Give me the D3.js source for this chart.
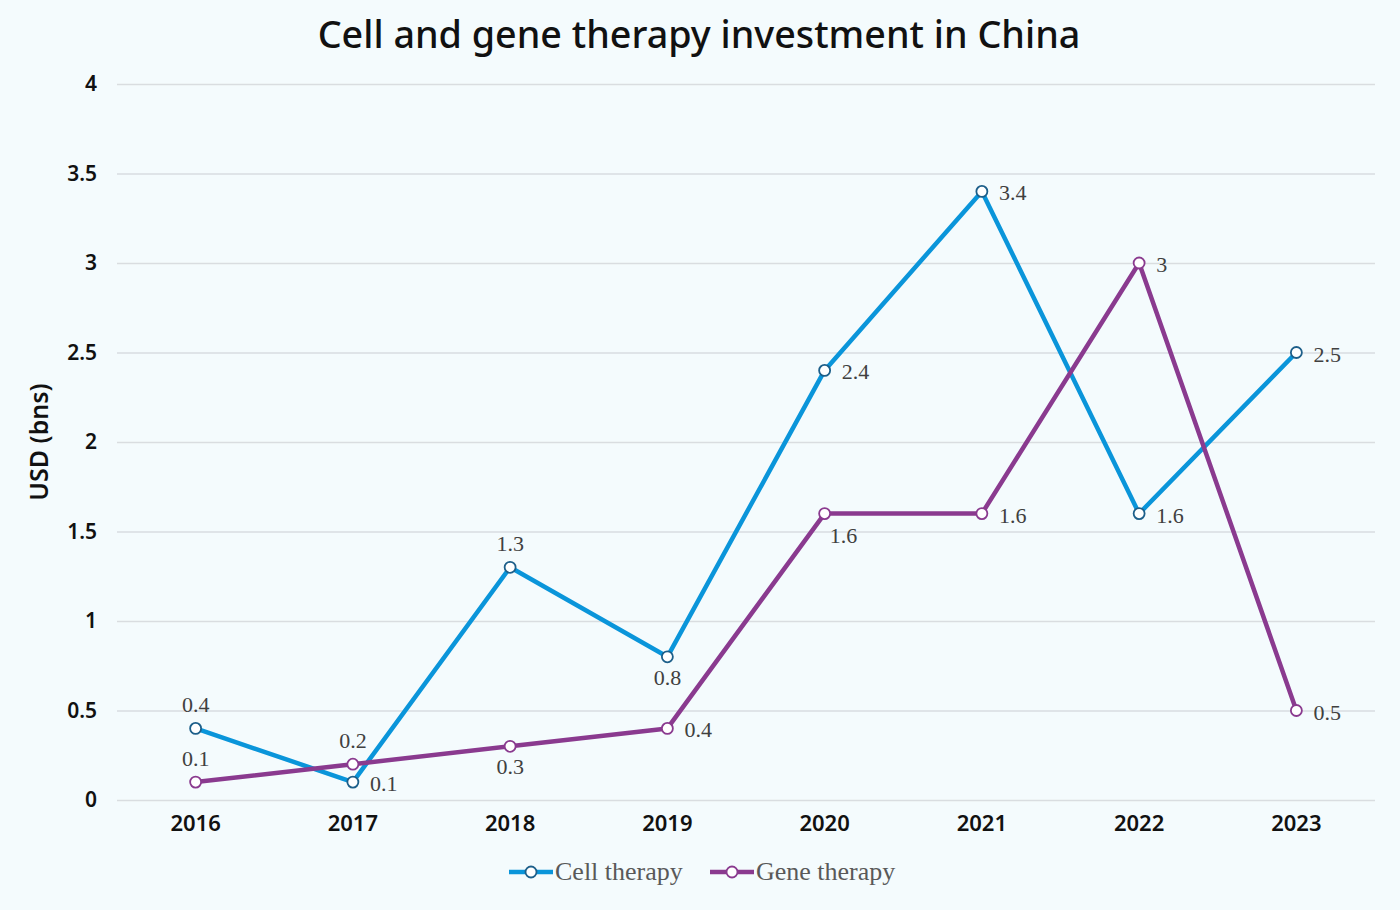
<!DOCTYPE html>
<html>
<head>
<meta charset="utf-8">
<script src="https://cdn.jsdelivr.net/npm/d3@7"></script>
<style>
  body { margin: 0; background: #f4fbfd; }
  svg { display: block; }
</style>
</head>
<body>
<svg id="chart" width="1400" height="910"></svg>
<script>
// Data
const years = ["2016", "2017", "2018", "2019", "2020", "2021", "2022", "2023"];
const cellTherapy = [0.4, 0.1, 1.3, 0.8, 2.4, 3.4, 1.6, 2.5];
const geneTherapy = [0.1, 0.2, 0.3, 0.4, 1.6, 1.6, 3, 0.5];
const cellLabelPos = ["above", "right", "above", "below", "right", "right", "right", "right"];
const geneLabelPos = ["above", "above", "below", "right", "belowRight", "right", "right", "right"];
const yTicks = [0, 0.5, 1, 1.5, 2, 2.5, 3, 3.5, 4];

const series = [
    { name: "Cell therapy", values: cellTherapy, pos: cellLabelPos, color: "#0a95da", marker: "#1d5f8a" },
    { name: "Gene therapy", values: geneTherapy, pos: geneLabelPos, color: "#8a3a8f", marker: "#8a3a8f" }
];

const svg = d3.select("#chart");
const W = 1400, H = 910;
const margin = { top: 84, right: 25, bottom: 110, left: 117 };
const sans = "'Noto Sans', Lato, sans-serif";
const serif = "'Liberation Serif', Georgia, serif";

svg.append("rect").attr("width", W).attr("height", H).attr("fill", "#f4fbfd");

const x = d3.scaleBand().domain(years).range([margin.left, W - margin.right]);
const y = d3.scaleLinear().domain([0, 4]).range([H - margin.bottom, margin.top]);

// Title
svg.append("text")
    .attr("x", 699).attr("y", 48)
    .attr("text-anchor", "middle")
    .style("font-family", sans)
    .style("font-size", "37.7px")
    .style("font-weight", 500)
    .style("fill", "#111")
    .text("Cell and gene therapy investment in China");

// Gridlines + y axis
const yAxis = svg.append("g")
    .attr("transform", `translate(${margin.left},0)`)
    .call(d3.axisLeft(y).tickValues(yTicks).tickSize(-(W - margin.left - margin.right)).tickPadding(20).tickFormat(d => d));
yAxis.select(".domain").remove();
yAxis.selectAll(".tick line").attr("stroke", "#d9dde0").attr("stroke-width", 1.5);
yAxis.selectAll(".tick text")
    .style("font-family", sans)
    .style("font-size", "21px")
    .style("font-weight", 600)
    .style("fill", "#111");

// x axis
const xAxis = svg.append("g")
    .attr("transform", `translate(0,${H - margin.bottom})`)
    .call(d3.axisBottom(x).tickSize(0).tickPadding(15));
xAxis.select(".domain").remove();
xAxis.selectAll(".tick text")
    .style("font-family", sans)
    .style("font-size", "22px")
    .style("font-weight", 600)
    .style("fill", "#111");

// y axis title
svg.append("text")
    .attr("transform", `translate(48,${442}) rotate(-90)`)
    .attr("text-anchor", "middle")
    .style("font-family", sans)
    .style("font-size", "25px")
    .style("font-weight", 600)
    .style("fill", "#111")
    .text("USD (bns)");

const cx = (d, i) => x(years[i]) + x.bandwidth() / 2;
const line = d3.line().x((d, i) => cx(d, i)).y(d => y(d));

const labelAttrs = {
    right: { dx: 17, dy: 9, anchor: "start" },
    above: { dx: 0, dy: -16, anchor: "middle" },
    below: { dx: 0, dy: 28, anchor: "middle" },
    belowRight: { dx: 5, dy: 29, anchor: "start" }
};

series.forEach(s => {
    const g = svg.append("g");
    g.append("path")
        .datum(s.values)
        .attr("d", line)
        .attr("fill", "none")
        .attr("stroke", s.color)
        .attr("stroke-width", 4.5)
        .attr("stroke-linejoin", "round");

    g.selectAll("circle")
        .data(s.values)
        .join("circle")
        .attr("cx", cx)
        .attr("cy", d => y(d))
        .attr("r", 5.5)
        .attr("fill", "#fff")
        .attr("stroke", s.marker)
        .attr("stroke-width", 1.8);

    g.selectAll("text")
        .data(s.values)
        .join("text")
        .attr("x", (d, i) => cx(d, i) + labelAttrs[s.pos[i]].dx)
        .attr("y", (d, i) => y(d) + labelAttrs[s.pos[i]].dy)
        .attr("text-anchor", (d, i) => labelAttrs[s.pos[i]].anchor)
        .style("font-family", serif)
        .style("font-size", "22px")
        .style("fill", "#404040")
        .text(d => d);
});

// Legend
const legend = svg.append("g").attr("transform", "translate(0,872)");
const legendItems = [
    { s: series[0], x0: 509 },
    { s: series[1], x0: 710 }
];
legendItems.forEach(it => {
    const lg = legend.append("g").attr("transform", `translate(${it.x0},0)`);
    lg.append("line").attr("x1", 0).attr("x2", 44).attr("y1", 0).attr("y2", 0)
        .attr("stroke", it.s.color).attr("stroke-width", 4.5);
    lg.append("circle").attr("cx", 22).attr("cy", 0).attr("r", 5.5)
        .attr("fill", "#fff").attr("stroke", it.s.marker).attr("stroke-width", 1.8);
    lg.append("text").attr("x", 46).attr("y", 8)
        .style("font-family", serif)
        .style("font-size", "26px")
        .style("fill", "#595959")
        .text(it.s.name);
});
</script>
</body>
</html>
